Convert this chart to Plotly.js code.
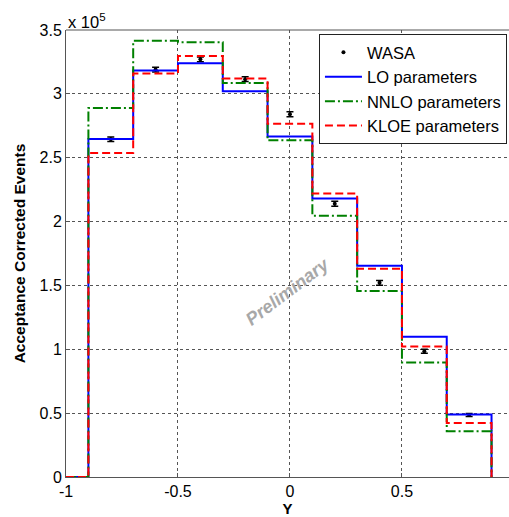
<!DOCTYPE html>
<html>
<head>
<meta charset="utf-8">
<script src="https://cdn.plot.ly/plotly-3.0.1.min.js"></script>
<style>html,body{margin:0;padding:0;background:#fff;}#chart{width:509px;height:517px;}</style>
</head>
<body>
<div id="chart"></div>
<script>
// Bin edges (Y) and values in units of 1e5 events
var binEdges = [-1, -0.9, -0.7, -0.5, -0.3, -0.1, 0.1, 0.3, 0.5, 0.7, 0.9];
var binCenters = [-0.8, -0.6, -0.4, -0.2, 0, 0.2, 0.4, 0.6, 0.8];
var wasa = [2.645, 3.19, 3.27, 3.115, 2.84, 2.14, 1.52, 0.985, 0.485];
var wasaErr = [0.018, 0.018, 0.018, 0.018, 0.02, 0.02, 0.018, 0.016, 0.012];
var lo = [2.647, 3.183, 3.24, 3.02, 2.667, 2.18, 1.654, 1.099, 0.49];
var nnlo = [2.89, 3.415, 3.405, 3.085, 2.636, 2.045, 1.456, 0.896, 0.359];
var kloe = [2.536, 3.16, 3.297, 3.12, 2.766, 2.219, 1.63, 1.021, 0.422];
var xTickVals = [-1, -0.5, 0, 0.5];
var xTickText = ['-1', '-0.5', '0', '0.5'];
var yTickVals = [0, 0.5, 1, 1.5, 2, 2.5, 3, 3.5];
var yTickText = ['0', '0.5', '1', '1.5', '2', '2.5', '3', '3.5'];

function stepY(v) { return [0].concat(v).concat([0]); }

var font = 'Liberation Sans, Arial, sans-serif';
var traces = [
  {x: binCenters, y: wasa, type: 'scatter', mode: 'markers', name: 'WASA',
   marker: {color: '#000', size: 4},
   error_y: {type: 'data', array: wasaErr, visible: true, color: '#000', thickness: 1.5, width: 3.5}},
  {x: binEdges, y: stepY(lo), type: 'scatter', mode: 'lines', name: 'LO parameters',
   line: {shape: 'hv', color: '#0000ff', width: 2}},
  {x: binEdges, y: stepY(nnlo), type: 'scatter', mode: 'lines', name: 'NNLO parameters',
   line: {shape: 'hv', color: '#008000', width: 2, dash: '10px,3px,2px,3px'}},
  {x: binEdges, y: stepY(kloe), type: 'scatter', mode: 'lines', name: 'KLOE parameters',
   line: {shape: 'hv', color: '#ff0000', width: 2, dash: '8px,4px'}}
];

var axisCommon = {
  showline: true, linecolor: '#555', linewidth: 1, ticks: 'inside', ticklen: 4,
  tickcolor: '#555', showgrid: true, gridcolor: '#555', griddash: 'dot', gridwidth: 1,
  zeroline: false, tickfont: {family: font, size: 16, color: '#000'}
};

var layout = {
  width: 509, height: 517,
  margin: {l: 66, r: 0, t: 30, b: 40},
  paper_bgcolor: '#fff', plot_bgcolor: '#fff',
  showlegend: true,
  legend: {x: 0.571, y: 0.991, xanchor: 'left', yanchor: 'top', bgcolor: '#fff',
           bordercolor: '#222', borderwidth: 1, font: {family: font, size: 16.5, color: '#000'},
           tracegroupgap: 0, itemwidth: 37},
  xaxis: Object.assign({}, axisCommon, {
    range: [-1, 0.978], tickvals: xTickVals, ticktext: xTickText,
    title: {text: '<b>Y</b>', font: {family: font, size: 15, color: '#000'}, standoff: 3}
  }),
  yaxis: Object.assign({}, axisCommon, {
    range: [0, 3.5], tickvals: yTickVals, ticktext: yTickText,
    title: {text: '<b>Acceptance Corrected Events</b>', font: {family: font, size: 15.5, color: '#000'}, standoff: 10}
  }),
  shapes: [
    {type: 'line', xref: 'paper', yref: 'paper', x0: 0, x1: 1, y0: 1, y1: 1,
     line: {color: '#555', width: 1}}
  ],
  annotations: [
    {xref: 'paper', yref: 'paper', x: 0, y: 1, xanchor: 'left', yanchor: 'bottom',
     text: 'x 10<sup>5</sup>', showarrow: false, font: {family: font, size: 16.5, color: '#000'}, yshift: -3},
    {xref: 'x', yref: 'y', x: -0.013, y: 1.45, text: '<b><i>Preliminary</i></b>', showarrow: false,
     textangle: -37, font: {family: font, size: 18, color: '#a8a8a8'}}
  ]
};

Plotly.newPlot('chart', traces, layout, {displayModeBar: false, staticPlot: true});
</script>
</body>
</html>
